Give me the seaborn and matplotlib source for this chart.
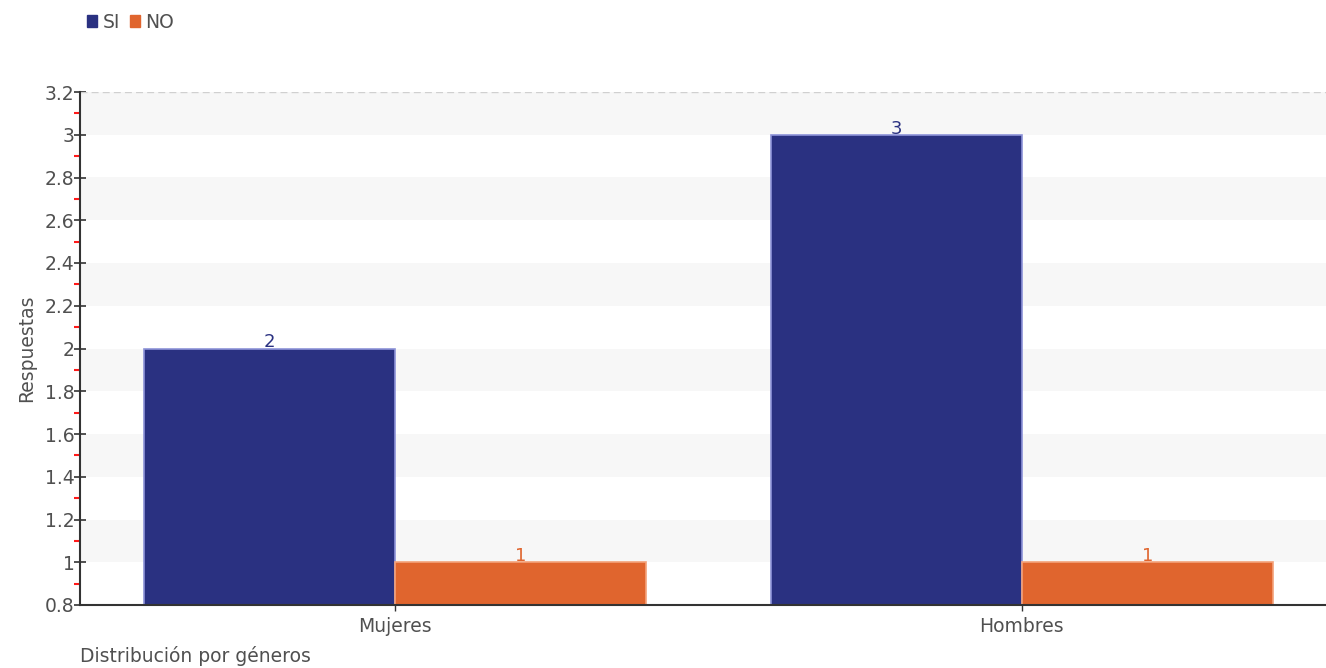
import pandas as pd
import matplotlib
matplotlib.use("Agg")
import matplotlib.pyplot as plt
import seaborn as sns
from matplotlib.ticker import MultipleLocator

# ================= Data =================
generos = ["Mujeres", "Hombres"]
respuestas = ["SI", "NO"]
valores_si = [2, 3]
valores_no = [1, 1]

df = pd.DataFrame({
    "genero": generos * 2,
    "respuesta": ["SI"] * len(generos) + ["NO"] * len(generos),
    "valor": valores_si + valores_no,
})

colores = {"SI": "#2a3181", "NO": "#e0652e"}
bordes = {"SI": "#8d93d8", "NO": "#f4a27a"}
texto = "#505050"

sns.set_style("white")
plt.rcParams["font.family"] = ["DejaVu Sans"]

fig = plt.figure(figsize=(13.26, 6.68), dpi=100)
ax = fig.add_axes([80 / 1326, 1 - 605 / 668, 1 - 80 / 1326, (605 - 92) / 668])

# alternating background bands
y0 = 0.8
i = 0
while y0 < 3.2 - 1e-9:
    if i % 2 == 1:
        ax.axhspan(y0, y0 + 0.2, color="#f7f7f7", zorder=0, lw=0)
    y0 += 0.2
    i += 1
ax.axhline(3.2, color="#d0d0d0", lw=1, ls=(0, (5, 3)), zorder=1)

sns.barplot(data=df, x="genero", y="valor", hue="respuesta", order=generos,
            hue_order=respuestas, palette=colores, width=0.8, gap=0,
            saturation=1, ax=ax, legend=False, zorder=2)

for cont, resp in zip(ax.containers, respuestas):
    for bar in cont:
        bar.set_edgecolor(bordes[resp])
        bar.set_linewidth(1.2)
    ax.bar_label(cont, labels=[f"{v:g}" for v in cont.datavalues],
                 color=colores[resp], fontsize=13, padding=-2)

ax.set_ylim(0.8, 3.2)
ax.set_xlim(-0.502, 1.485)
ax.yaxis.set_major_locator(MultipleLocator(0.2))
ax.yaxis.set_minor_locator(MultipleLocator(0.1))
ax.yaxis.set_major_formatter(plt.FuncFormatter(lambda v, p: f"{v:g}"))
ax.tick_params(axis="y", which="major", direction="inout", length=8, width=1.2,
               color="#333333", labelsize=13.5, labelcolor=texto, pad=0, left=True)
ax.tick_params(axis="y", which="minor", direction="out", length=4, width=1.5,
               color="#ff1a1a", left=True)
ax.tick_params(axis="x", which="major", direction="out", length=4, width=1,
               color="#333333", labelsize=13.5, labelcolor=texto, pad=5, bottom=True)

for s in ["top", "right"]:
    ax.spines[s].set_visible(False)
for s in ["left", "bottom"]:
    ax.spines[s].set_color("#333333")
    ax.spines[s].set_linewidth(1.5)
    ax.spines[s].set_zorder(3)

ax.set_xlabel("")
ax.set_ylabel("Respuestas", fontsize=13.5, color=texto, labelpad=6)
fig.text(80 / 1326, 1 - 656 / 668, "Distribución por géneros", fontsize=13.5,
         color=texto, ha="left", va="center")

# legend at top left
handles = [plt.Rectangle((0, 0), 1, 1, color=colores[r]) for r in respuestas]
fig.legend(handles, respuestas, loc="center left", bbox_to_anchor=(70 / 1326, 1 - 22 / 668),
           ncol=2, frameon=False, fontsize=13.5, handlelength=0.55, handleheight=0.55,
           handletextpad=0.3, columnspacing=0.5, labelcolor=texto)

fig.savefig("out.png", dpi=100)
